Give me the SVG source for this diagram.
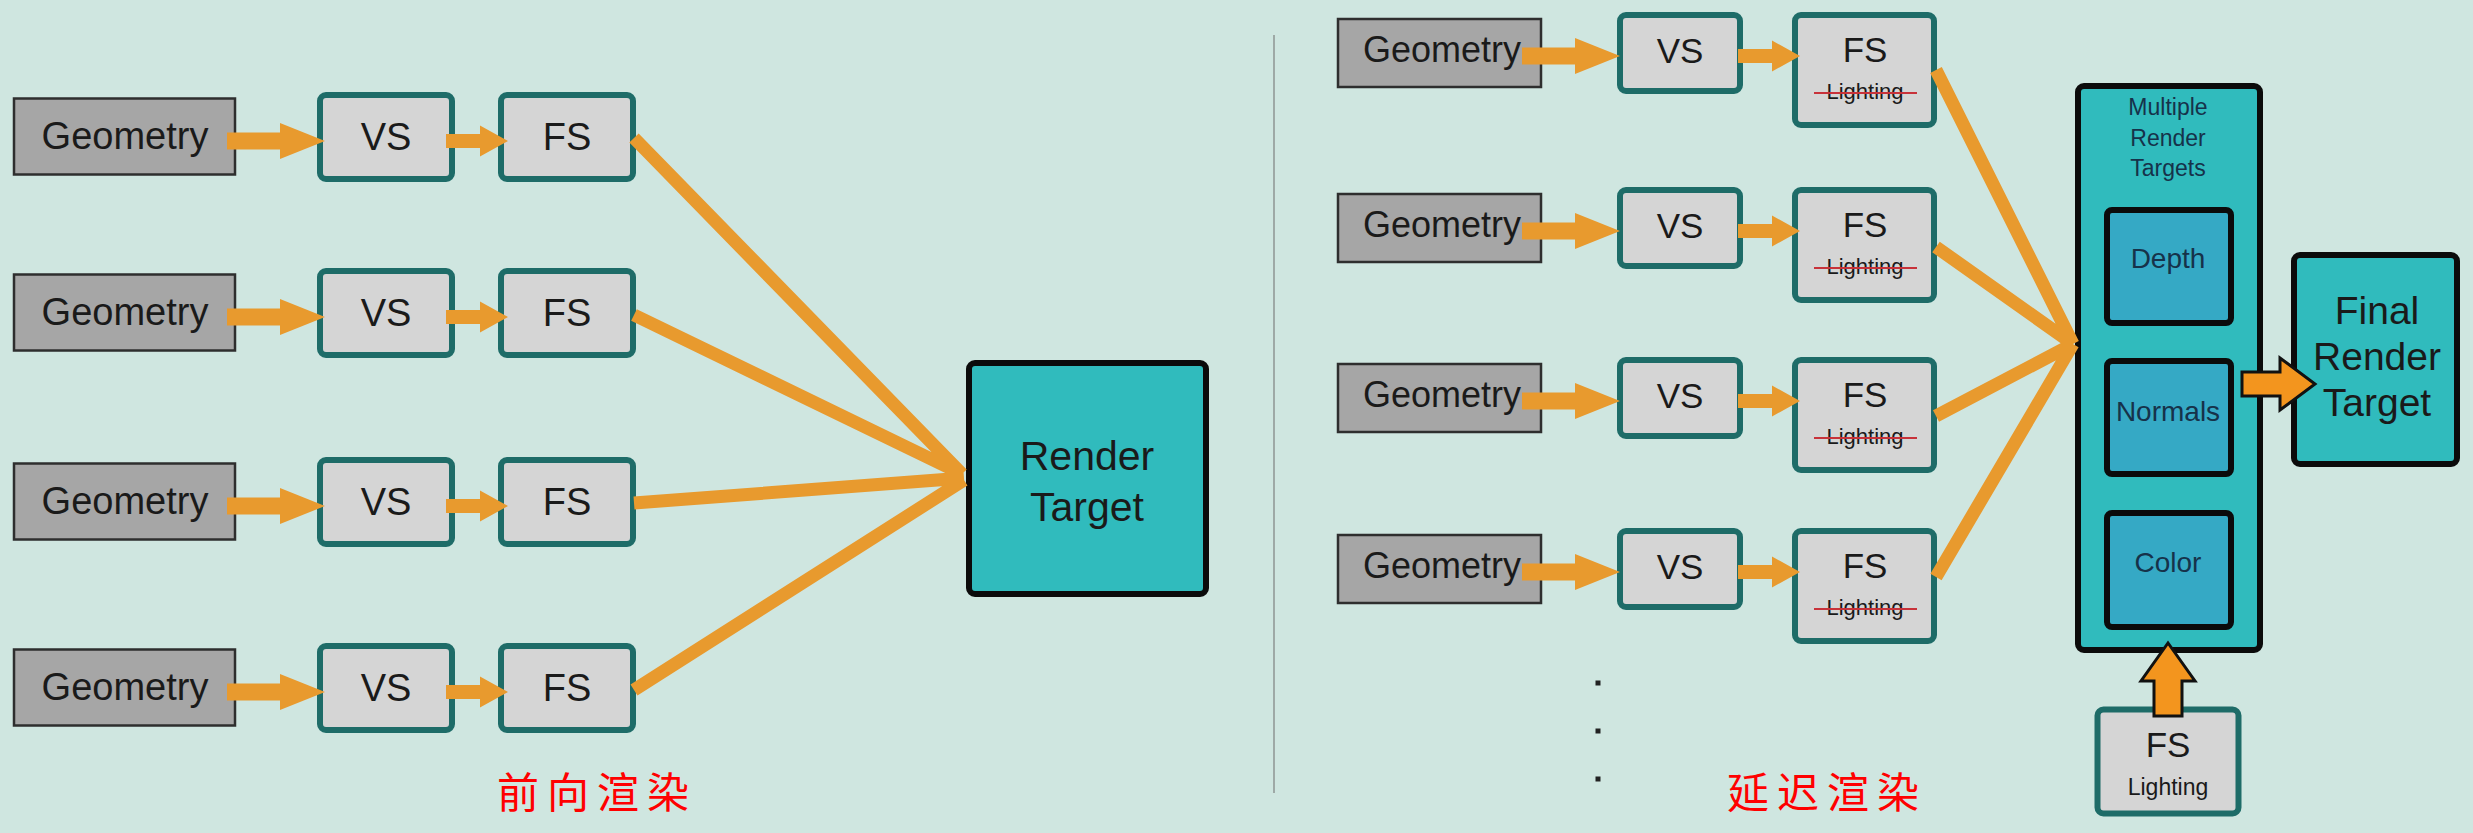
<svg xmlns="http://www.w3.org/2000/svg" width="2473" height="833" viewBox="0 0 2473 833">
<style>
.t{font-family:"Liberation Sans",Arial,sans-serif;fill:#1a1a1a;text-anchor:middle}
.geo{fill:#a6a6a6;stroke:#2e2e2e;stroke-width:2.5}
.sh{fill:#d5d5d5;stroke:#1e6c68;stroke-width:6}
.rt{fill:#30bbbd;stroke:#0b0b0b;stroke-width:6}
.mrt{fill:#35a9c5;stroke:#0b0b0b;stroke-width:6}
.fan{stroke:#e89a2e;stroke-width:13;fill:none}
.oa{fill:#e89a2e}
.ba{fill:#f3951e;stroke:#111;stroke-width:3;stroke-linejoin:miter}
.strike{stroke:#c8323a;stroke-width:2.2}
.cn{font-family:"Noto Sans CJK SC","Noto Sans CJK JP",sans-serif;fill:#ff0000;font-size:42px;letter-spacing:8px}
.dk{fill:#16324a}
</style>
<defs>
<path id="bigArrow" d="M-98,-8.5 H-45 V-18 L0,0 L-45,18 V8.5 H-98 Z"/>
<path id="smallArrow" d="M-62,-7 H-28 V-15.5 L0,0 L-28,15.5 V7 H-62 Z"/>
</defs>
<rect width="2473" height="833" fill="#cfe6e0"/>
<line x1="1274" y1="35" x2="1274" y2="793" stroke="#9ea9a6" stroke-width="2"/>

<!-- Left: forward rendering -->
<g id="fwd-geo-1"><rect class="geo" x="14" y="98.5" width="221" height="76"/><text class="t" x="125" y="149" font-size="38">Geometry</text></g>
<g id="fwd-vs-1"><rect class="sh" x="320" y="95" width="132" height="84" rx="6"/><text class="t" x="386" y="150" font-size="38">VS</text></g>
<g id="fwd-fs-1"><rect class="sh" x="501" y="95" width="132" height="84" rx="6"/><text class="t" x="567" y="150" font-size="38">FS</text></g>

<g id="fwd-geo-2"><rect class="geo" x="14" y="274.5" width="221" height="76"/><text class="t" x="125" y="325" font-size="38">Geometry</text></g>
<g id="fwd-vs-2"><rect class="sh" x="320" y="271" width="132" height="84" rx="6"/><text class="t" x="386" y="326" font-size="38">VS</text></g>
<g id="fwd-fs-2"><rect class="sh" x="501" y="271" width="132" height="84" rx="6"/><text class="t" x="567" y="326" font-size="38">FS</text></g>

<g id="fwd-geo-3"><rect class="geo" x="14" y="463.5" width="221" height="76"/><text class="t" x="125" y="514" font-size="38">Geometry</text></g>
<g id="fwd-vs-3"><rect class="sh" x="320" y="460" width="132" height="84" rx="6"/><text class="t" x="386" y="515" font-size="38">VS</text></g>
<g id="fwd-fs-3"><rect class="sh" x="501" y="460" width="132" height="84" rx="6"/><text class="t" x="567" y="515" font-size="38">FS</text></g>

<g id="fwd-geo-4"><rect class="geo" x="14" y="649.5" width="221" height="76"/><text class="t" x="125" y="700" font-size="38">Geometry</text></g>
<g id="fwd-vs-4"><rect class="sh" x="320" y="646" width="132" height="84" rx="6"/><text class="t" x="386" y="701" font-size="38">VS</text></g>
<g id="fwd-fs-4"><rect class="sh" x="501" y="646" width="132" height="84" rx="6"/><text class="t" x="567" y="701" font-size="38">FS</text></g>

<g id="render-target"><rect class="rt" x="969" y="363" width="237" height="231" rx="6"/><text class="t" x="1087" y="470" font-size="41">Render</text><text class="t" x="1087" y="521" font-size="41">Target</text></g>

<!-- Right: deferred rendering -->
<g id="def-geo-1"><rect class="geo" x="1338" y="19" width="203" height="68"/><text class="t" x="1442" y="62" font-size="36">Geometry</text></g>
<g id="def-vs-1"><rect class="sh" x="1620" y="15" width="120" height="76" rx="6"/><text class="t" x="1680" y="63" font-size="35">VS</text></g>
<g id="def-fs-1"><rect class="sh" x="1795" y="15" width="139" height="110" rx="6"/><text class="t" x="1865" y="62" font-size="35">FS</text><text class="t" x="1865" y="99" font-size="22" fill="#333">Lighting</text><line class="strike" x1="1814" y1="93" x2="1917" y2="93"/></g>

<g id="def-geo-2"><rect class="geo" x="1338" y="194" width="203" height="68"/><text class="t" x="1442" y="237" font-size="36">Geometry</text></g>
<g id="def-vs-2"><rect class="sh" x="1620" y="190" width="120" height="76" rx="6"/><text class="t" x="1680" y="238" font-size="35">VS</text></g>
<g id="def-fs-2"><rect class="sh" x="1795" y="190" width="139" height="110" rx="6"/><text class="t" x="1865" y="237" font-size="35">FS</text><text class="t" x="1865" y="274" font-size="22" fill="#333">Lighting</text><line class="strike" x1="1814" y1="268" x2="1917" y2="268"/></g>

<g id="def-geo-3"><rect class="geo" x="1338" y="364" width="203" height="68"/><text class="t" x="1442" y="407" font-size="36">Geometry</text></g>
<g id="def-vs-3"><rect class="sh" x="1620" y="360" width="120" height="76" rx="6"/><text class="t" x="1680" y="408" font-size="35">VS</text></g>
<g id="def-fs-3"><rect class="sh" x="1795" y="360" width="139" height="110" rx="6"/><text class="t" x="1865" y="407" font-size="35">FS</text><text class="t" x="1865" y="444" font-size="22" fill="#333">Lighting</text><line class="strike" x1="1814" y1="438" x2="1917" y2="438"/></g>

<g id="def-geo-4"><rect class="geo" x="1338" y="535" width="203" height="68"/><text class="t" x="1442" y="578" font-size="36">Geometry</text></g>
<g id="def-vs-4"><rect class="sh" x="1620" y="531" width="120" height="76" rx="6"/><text class="t" x="1680" y="579" font-size="35">VS</text></g>
<g id="def-fs-4"><rect class="sh" x="1795" y="531" width="139" height="110" rx="6"/><text class="t" x="1865" y="578" font-size="35">FS</text><text class="t" x="1865" y="615" font-size="22" fill="#333">Lighting</text><line class="strike" x1="1814" y1="609" x2="1917" y2="609"/></g>

<g id="mrt"><rect class="rt" x="2078" y="86" width="182" height="564" rx="6"/><text class="t dk" x="2168" y="115" font-size="23">Multiple</text><text class="t dk" x="2168" y="146" font-size="23">Render</text><text class="t dk" x="2168" y="176" font-size="23">Targets</text></g>
<g id="mrt-depth"><rect class="mrt" x="2107" y="210" width="124" height="113" rx="5"/><text class="t dk" x="2168" y="268" font-size="28">Depth</text></g>
<g id="mrt-normals"><rect class="mrt" x="2107" y="361" width="124" height="113" rx="5"/><text class="t dk" x="2168" y="421" font-size="28">Normals</text></g>
<g id="mrt-color"><rect class="mrt" x="2107" y="513" width="124" height="114" rx="5"/><text class="t dk" x="2168" y="572" font-size="28">Color</text></g>

<g id="final-render-target"><rect class="rt" x="2294" y="255" width="163" height="209" rx="6"/><text class="t" x="2377" y="324" font-size="39">Final</text><text class="t" x="2377" y="370" font-size="39">Render</text><text class="t" x="2377" y="416" font-size="39">Target</text></g>

<g id="fs-lighting"><rect class="sh" x="2097.5" y="709.5" width="141" height="104" rx="6" stroke-width="5"/><text class="t" x="2168" y="757" font-size="35">FS</text><text class="t" x="2168" y="795" font-size="23">Lighting</text></g>

<!-- Connectors -->
<g id="connectors">
<g class="oa">
<use href="#bigArrow" x="325" y="141"/>
<use href="#smallArrow" x="508" y="141"/>
<use href="#bigArrow" x="325" y="317"/>
<use href="#smallArrow" x="508" y="317"/>
<use href="#bigArrow" x="325" y="506"/>
<use href="#smallArrow" x="508" y="506"/>
<use href="#bigArrow" x="325" y="692"/>
<use href="#smallArrow" x="508" y="692"/>
<use href="#bigArrow" x="1620" y="56"/>
<use href="#smallArrow" x="1800" y="56"/>
<use href="#bigArrow" x="1620" y="231"/>
<use href="#smallArrow" x="1800" y="231"/>
<use href="#bigArrow" x="1620" y="401"/>
<use href="#smallArrow" x="1800" y="401"/>
<use href="#bigArrow" x="1620" y="572"/>
<use href="#smallArrow" x="1800" y="572"/>
</g>
<path class="fan" d="M634,138 L962,474 M634,315 L962,474 M634,503 L964,478 M634,690 L964,480"/>
<path class="fan" d="M1936,70 L2073,344 M1936,247 L2073,344 M1936,416 L2073,344 M1936,577 L2073,344"/>
<path class="ba" d="M2242,372 H2280 V358 L2315,384 L2280,410 V396 H2242 Z"/>
<path class="ba" d="M2154,716 V681 H2141 L2168,643 L2195,681 H2182 V716 Z"/>
</g>

<g id="ellipsis" fill="#222">
<rect x="1595.5" y="680.5" width="5" height="5"/>
<rect x="1595.5" y="728.5" width="5" height="5"/>
<rect x="1595.5" y="776.5" width="5" height="5"/>
</g>

<text class="cn" x="497" y="808">前向渲染</text>
<text class="cn" x="1727" y="808">延迟渲染</text>
</svg>
